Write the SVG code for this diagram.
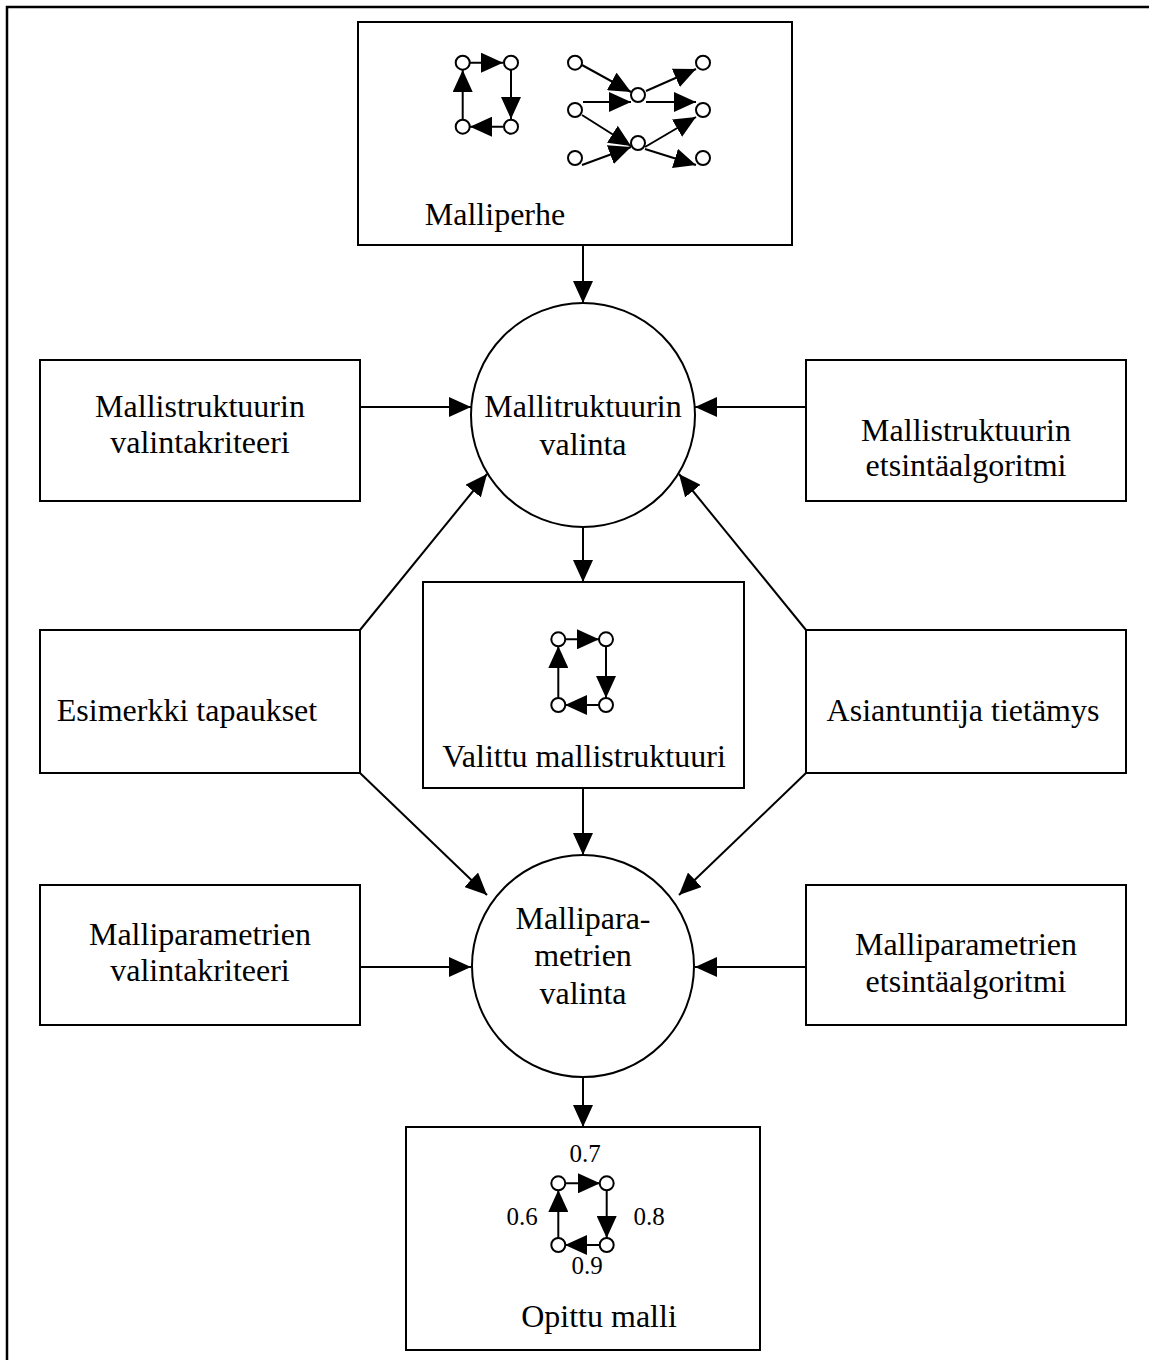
<svg xmlns="http://www.w3.org/2000/svg" width="1149" height="1360" viewBox="0 0 1149 1360">
<defs>
<marker id="ah" markerUnits="userSpaceOnUse" markerWidth="22" markerHeight="20" refX="22" refY="10" orient="auto" viewBox="0 0 22 20">
<path d="M0,0 L22,10 L0,20 z" fill="#000"/>
</marker>
</defs>
<style>
.box{fill:#fff;stroke:#000;stroke-width:2}
.t{font-family:"Liberation Serif","Times New Roman",serif;font-size:32px;fill:#000;text-anchor:middle}
.s{font-family:"Liberation Serif","Times New Roman",serif;font-size:25px;fill:#000;text-anchor:middle}
.e{stroke:#000;stroke-width:2;fill:none;marker-end:url(#ah)}
.n{fill:#fff;stroke:#000;stroke-width:2}
.g{stroke:#000;stroke-width:2;fill:none;marker-end:url(#ah)}
</style>
<rect x="7" y="7" width="1170" height="1380" fill="none" stroke="#000" stroke-width="2.5"/>

<g id="connectors">
<line class="e" x1="583" y1="245" x2="583" y2="303"/>
<line class="e" x1="360" y1="407" x2="471" y2="407"/>
<line class="e" x1="806" y1="407" x2="695" y2="407"/>
<line class="e" x1="583" y1="527" x2="583" y2="582"/>
<line class="e" x1="360" y1="630" x2="487" y2="474"/>
<line class="e" x1="806" y1="630" x2="679" y2="474"/>
<line class="e" x1="360" y1="773" x2="487" y2="895"/>
<line class="e" x1="806" y1="773" x2="679" y2="895"/>
<line class="e" x1="583" y1="788" x2="583" y2="855"/>
<line class="e" x1="360" y1="967" x2="471" y2="967"/>
<line class="e" x1="806" y1="967" x2="695" y2="967"/>
<line class="e" x1="583" y1="1077" x2="583" y2="1127"/>
</g>

<g id="malliperhe">
<rect class="box" x="358" y="22" width="434" height="223"/>
<line class="g" x1="470" y1="62.7" x2="503" y2="62.7"/>
<line class="g" x1="511" y1="70" x2="511" y2="119"/>
<line class="g" x1="503" y1="126.7" x2="470" y2="126.7"/>
<line class="g" x1="462.7" y1="119" x2="462.7" y2="70"/>
<circle class="n" cx="462.7" cy="62.7" r="7"/>
<circle class="n" cx="511" cy="62.7" r="7"/>
<circle class="n" cx="462.7" cy="126.7" r="7"/>
<circle class="n" cx="511" cy="126.7" r="7"/>
<line class="g" x1="582" y1="65" x2="631" y2="92"/>
<line class="g" x1="583" y1="102" x2="631" y2="102"/>
<line class="g" x1="646" y1="91" x2="696" y2="69"/>
<line class="g" x1="646" y1="102" x2="696" y2="102"/>
<line class="g" x1="582" y1="115" x2="631" y2="146"/>
<line class="g" x1="582" y1="165" x2="631" y2="147"/>
<line class="g" x1="645" y1="147" x2="696" y2="117"/>
<line class="g" x1="645" y1="149" x2="696" y2="165"/>
<circle class="n" cx="575" cy="62.7" r="7"/>
<circle class="n" cx="703" cy="62.7" r="7"/>
<circle class="n" cx="638" cy="95" r="7"/>
<circle class="n" cx="575" cy="110" r="7"/>
<circle class="n" cx="703" cy="110" r="7"/>
<circle class="n" cx="638" cy="143" r="7"/>
<circle class="n" cx="575" cy="158" r="7"/>
<circle class="n" cx="703" cy="158" r="7"/>
<text class="t" x="495" y="225">Malliperhe</text>
</g>

<g id="mallitruktuurin-valinta">
<circle class="box" cx="583" cy="415" r="112"/>
<text class="t" x="583" y="417">Mallitruktuurin</text>
<text class="t" x="583" y="455">valinta</text>
</g>

<g id="mallistruktuurin-valintakriteeri">
<rect class="box" x="40" y="360" width="320" height="141"/>
<text class="t" x="200" y="417">Mallistruktuurin</text>
<text class="t" x="200" y="453">valintakriteeri</text>
</g>

<g id="mallistruktuurin-etsintaalgoritmi">
<rect class="box" x="806" y="360" width="320" height="141"/>
<text class="t" x="966" y="441">Mallistruktuurin</text>
<text class="t" x="966" y="476">etsintäalgoritmi</text>
</g>

<g id="valittu-mallistruktuuri">
<rect class="box" x="423" y="582" width="321" height="206"/>
<line class="g" x1="565" y1="639.3" x2="599" y2="639.3"/>
<line class="g" x1="606" y1="646" x2="606" y2="698"/>
<line class="g" x1="599" y1="705" x2="565" y2="705"/>
<line class="g" x1="558.3" y1="698" x2="558.3" y2="646"/>
<circle class="n" cx="558.3" cy="639.3" r="7"/>
<circle class="n" cx="606" cy="639.3" r="7"/>
<circle class="n" cx="558.3" cy="705" r="7"/>
<circle class="n" cx="606" cy="705" r="7"/>
<text class="t" x="584" y="767">Valittu mallistruktuuri</text>
</g>

<g id="esimerkki-tapaukset">
<rect class="box" x="40" y="630" width="320" height="143"/>
<text class="t" x="187" y="721">Esimerkki tapaukset</text>
</g>

<g id="asiantuntija-tietamys">
<rect class="box" x="806" y="630" width="320" height="143"/>
<text class="t" x="963" y="721">Asiantuntija tietämys</text>
</g>

<g id="malliparametrien-valinta">
<circle class="box" cx="583" cy="966" r="111"/>
<text class="t" x="583" y="929">Mallipara-</text>
<text class="t" x="583" y="966">metrien</text>
<text class="t" x="583" y="1004">valinta</text>
</g>

<g id="malliparametrien-valintakriteeri">
<rect class="box" x="40" y="885" width="320" height="140"/>
<text class="t" x="200" y="945">Malliparametrien</text>
<text class="t" x="200" y="981">valintakriteeri</text>
</g>

<g id="malliparametrien-etsintaalgoritmi">
<rect class="box" x="806" y="885" width="320" height="140"/>
<text class="t" x="966" y="955">Malliparametrien</text>
<text class="t" x="966" y="992">etsintäalgoritmi</text>
</g>

<g id="opittu-malli">
<rect class="box" x="406" y="1127" width="354" height="223"/>
<line class="g" x1="565" y1="1183.3" x2="600" y2="1183.3"/>
<line class="g" x1="606.7" y1="1190" x2="606.7" y2="1238"/>
<line class="g" x1="600" y1="1245" x2="565" y2="1245"/>
<line class="g" x1="558.3" y1="1238" x2="558.3" y2="1190"/>
<circle class="n" cx="558.3" cy="1183.3" r="7"/>
<circle class="n" cx="606.7" cy="1183.3" r="7"/>
<circle class="n" cx="558.3" cy="1245" r="7"/>
<circle class="n" cx="606.7" cy="1245" r="7"/>
<text class="s" x="585" y="1162">0.7</text>
<text class="s" x="522" y="1225">0.6</text>
<text class="s" x="649" y="1225">0.8</text>
<text class="s" x="587" y="1274">0.9</text>
<text class="t" x="599" y="1327">Opittu malli</text>
</g>
</svg>
